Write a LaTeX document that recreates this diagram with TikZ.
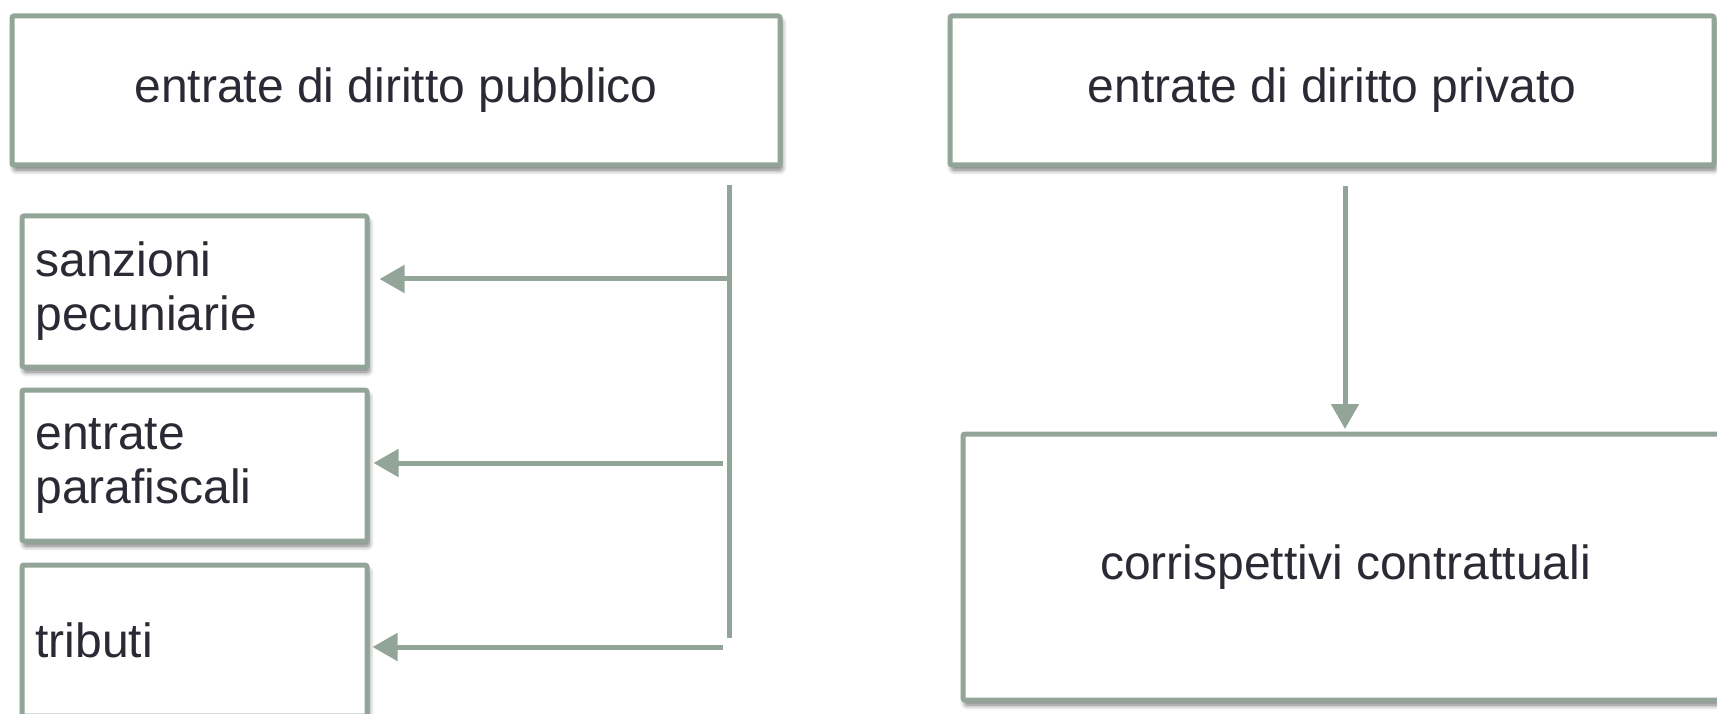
\documentclass[tikz,border=0pt]{standalone}
\usepackage{fontspec}
\setmainfont{Liberation Sans}
\usetikzlibrary{arrows.meta,shadows.blur}
\definecolor{linecol}{HTML}{93A498}
\definecolor{txtcol}{HTML}{2A2A35}
\tikzset{
  box/.style={draw=linecol, line width=5pt, fill=white, rounded corners=2pt,
    anchor=north west, inner sep=0pt, text=txtcol,
    blur shadow={shadow xshift=2pt, shadow yshift=-5pt, shadow opacity=55, shadow blur radius=5pt, shadow blur steps=8},
    font=\fontsize{48}{54}\selectfont},
  smallbox/.style={box, minimum width=345pt, minimum height=151pt,
    text width=318pt, inner xsep=13.5pt, align=left},
  arr/.style={draw=linecol, line width=5pt, -{Triangle[length=25pt,width=27pt]}},
  plainline/.style={draw=linecol, line width=5pt}
}
\begin{document}
\begin{tikzpicture}[x=1pt,y=-1pt]
\useasboundingbox (0,0) rectangle (1717,714);
\node[box, minimum width=768pt, minimum height=149pt] (pub) at (9.5,13.5) {entrate di diritto pubblico};
\node[box, minimum width=764pt, minimum height=149pt] (priv) at (947.5,13.5) {entrate di diritto privato};
\node[smallbox] (sanz) at (19.5,213.5) {sanzioni\\pecuniarie};
\node[smallbox] (para) at (19.5,387.5) {entrate\\parafiscali};
\node[smallbox] (trib) at (19.5,562.5) {tributi};
\node[box, minimum width=765pt, minimum height=266pt] (corr) at (960.5,431.5) {corrispettivi contrattuali};
% left connectors
\coordinate (vtop) at (729.5,185);
\coordinate (vbot) at (729.5,638);
\coordinate (s1) at (732,279);
\coordinate (s2) at (723,463);
\coordinate (s3) at (723,647);
\draw[plainline] (vtop) -- (vbot);
\draw[arr] (s1) -- ([xshift=10pt]s1 -| sanz.east);
\draw[arr] (s2) -- ([xshift=4pt]s2 -| para.east);
\draw[arr] (s3) -- ([xshift=3pt]s3 -| trib.east);
% right connector
\coordinate (r1) at (1345,186);
\draw[arr] (r1) -- ([yshift=2.5pt]r1 |- corr.north);
\end{tikzpicture}
\end{document}
